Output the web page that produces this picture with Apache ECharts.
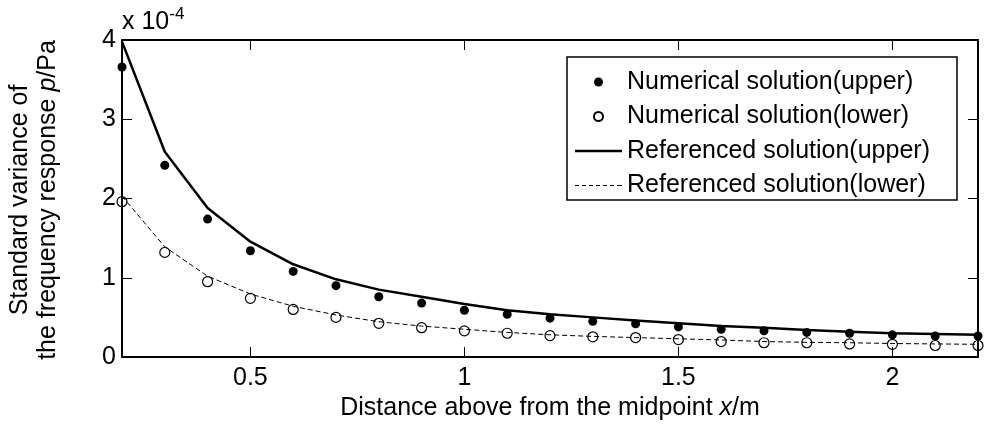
<!DOCTYPE html>
<html>
<head>
<meta charset="utf-8">
<script src="https://cdn.jsdelivr.net/npm/echarts@6/dist/echarts.min.js"></script>
<style>
  html, body { margin: 0; padding: 0; background: #fff; }
  #chart { width: 985px; height: 427px; }
</style>
</head>
<body>
<div id="chart"></div>
<script>
// distance x/m
var xs = [0.2, 0.3, 0.4, 0.5, 0.6, 0.7, 0.8, 0.9, 1.0, 1.1, 1.2, 1.3, 1.4, 1.5, 1.6, 1.7, 1.8, 1.9, 2.0, 2.1, 2.2];
// values in units of 1e-4 Pa
var numUpper = [3.66, 2.42, 1.74, 1.34, 1.08, 0.90, 0.76, 0.68, 0.59, 0.54, 0.49, 0.45, 0.42, 0.38, 0.35, 0.33, 0.31, 0.30, 0.28, 0.265, 0.265];
var numLower = [1.96, 1.32, 0.95, 0.74, 0.60, 0.50, 0.425, 0.37, 0.33, 0.30, 0.27, 0.255, 0.245, 0.22, 0.195, 0.18, 0.18, 0.165, 0.16, 0.145, 0.145];
var refUpper = [3.98, 2.59, 1.88, 1.455, 1.17, 0.98, 0.85, 0.76, 0.67, 0.59, 0.54, 0.50, 0.46, 0.425, 0.39, 0.37, 0.34, 0.32, 0.30, 0.29, 0.28];
var refLower = [2.03, 1.39, 1.02, 0.795, 0.64, 0.53, 0.445, 0.39, 0.35, 0.31, 0.28, 0.26, 0.245, 0.23, 0.215, 0.195, 0.185, 0.18, 0.17, 0.165, 0.16];
var xTicks = [0.5, 1, 1.5, 2];

var FONT = '"Liberation Sans", Arial, sans-serif';

function pairs(ys) {
    return xs.map(function (x, i) { return [x, ys[i]]; });
}

// legend icons: plain solid / dashed strokes
var solidIcon = 'path://M0,0H47V2.5H0Z';
var dashIcon = 'path://M0,0h4v1h-4z M7,0h4v1h-4z M14,0h4v1h-4z M21,0h4v1h-4z M28,0h4v1h-4z M35,0h4v1h-4z M42,0h5v1h-5z';

var chart = echarts.init(document.getElementById('chart'));

var xBase = {
    type: 'value', min: 0.2, max: 2.2,
    axisLine: { show: true, onZero: false, lineStyle: { color: '#000', width: 2 } },
    axisTick: { show: true, inside: true, length: 10, customValues: xTicks, lineStyle: { color: '#000', width: 1 } },
    splitLine: { show: false }
};
var yBase = {
    type: 'value', min: 0, max: 4, interval: 1,
    axisLine: { show: true, onZero: false, lineStyle: { color: '#000', width: 2 } },
    axisTick: { show: true, inside: true, length: 10, lineStyle: { color: '#000', width: 1 } },
    splitLine: { show: false }
};

var option = {
    animation: false,
    backgroundColor: '#fff',
    textStyle: { fontFamily: FONT },
    grid: { left: 122, right: 7, top: 40, bottom: 70 },
    xAxis: [
        echarts.util.merge({
            position: 'bottom',
            name: 'Distance above from the midpoint {i|x}/m',
            nameLocation: 'middle', nameGap: 37,
            nameTextStyle: {
                color: '#000', fontSize: 25, fontFamily: FONT,
                rich: { i: { fontStyle: 'italic', fontSize: 25, color: '#000', fontFamily: FONT } }
            },
            axisLabel: { show: true, customValues: xTicks, color: '#000', fontSize: 25, margin: 9, fontFamily: FONT,
                formatter: function (v) { return String(v); } }
        }, xBase, true),
        echarts.util.merge({ position: 'top', axisLabel: { show: false } }, xBase, true)
    ],
    yAxis: [
        echarts.util.merge({
            position: 'left',
            axisLabel: { show: true, color: '#000', fontSize: 25, margin: 6, fontFamily: FONT }
        }, yBase, true),
        echarts.util.merge({ position: 'right', axisLabel: { show: false } }, yBase, true)
    ],
    legend: {
        orient: 'vertical',
        left: 575, top: 69,
        padding: 0,
        itemWidth: 47, itemHeight: 9, itemGap: 8.5,
        textStyle: { color: '#000', fontSize: 25, lineHeight: 26, fontFamily: FONT },
        data: [
            { name: 'Numerical solution(upper)' },
            { name: 'Numerical solution(lower)' },
            { name: 'Referenced solution(upper)', icon: solidIcon },
            { name: 'Referenced solution(lower)', icon: dashIcon }
        ]
    },
    graphic: [
        {
            type: 'rect', silent: true, z: 100,
            shape: { x: 567, y: 57, width: 390, height: 143 },
            style: { fill: 'none', stroke: '#000', lineWidth: 1.5 }
        },
        {
            type: 'text', left: 122, top: 6,
            style: {
                text: 'x 10{s|-4}', fill: '#000', font: '25px ' + FONT,
                rich: { s: { fontSize: 17, verticalAlign: 'top', padding: [0, 0, 16, 0], fill: '#000', fontFamily: FONT } }
            }
        },
        {
            type: 'text', x: 34, y: 200, rotation: Math.PI / 2,
            style: {
                text: 'Standard variance of\nthe frequency response {i|p}/Pa',
                fill: '#000', font: '25px ' + FONT, align: 'center', verticalAlign: 'middle', lineHeight: 28,
                rich: { i: { fontStyle: 'italic', fontSize: 25, lineHeight: 28, fill: '#000', fontFamily: FONT } }
            }
        }
    ],
    series: [
        {
            name: 'Referenced solution(upper)', type: 'line', data: pairs(refUpper),
            symbol: 'none', clip: false, z: 2,
            lineStyle: { color: '#000', width: 2.5 }, itemStyle: { color: '#000' }
        },
        {
            name: 'Referenced solution(lower)', type: 'line', data: pairs(refLower),
            symbol: 'none', clip: false, z: 2,
            lineStyle: { color: '#000', width: 1, type: [5, 3] }, itemStyle: { color: '#000' }
        },
        {
            name: 'Numerical solution(upper)', type: 'scatter', data: pairs(numUpper),
            symbol: 'circle', symbolSize: 9, clip: false, z: 3,
            itemStyle: { color: '#000', opacity: 1 }
        },
        {
            name: 'Numerical solution(lower)', type: 'scatter', data: pairs(numLower),
            symbol: 'circle', symbolSize: 10, clip: false, z: 3,
            itemStyle: { color: 'rgba(0,0,0,0)', borderColor: '#000', borderWidth: 1.2, opacity: 1 }
        }
    ]
};

chart.setOption(option);
</script>
</body>
</html>
